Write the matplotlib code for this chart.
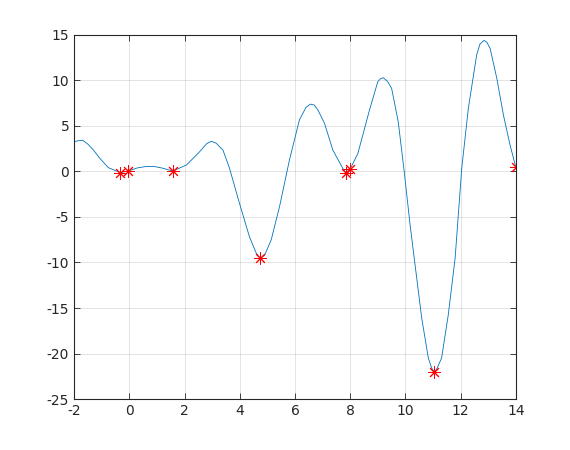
import matplotlib
matplotlib.use("Agg")
import matplotlib.pyplot as plt

# curve samples
x = [-2.0, -1.85, -1.69, -1.50, -1.30, -1.07, -0.76, -0.32, -0.04, 0.30, 0.57, 0.87,
     1.23, 1.57, 2.07, 2.55, 2.80, 2.97, 3.15, 3.39, 3.63, 3.99, 4.35, 4.60, 4.75,
     4.90, 5.14, 5.44, 5.80, 6.16, 6.40, 6.56, 6.70, 6.83, 7.07, 7.37, 7.73, 7.84,
     8.0, 8.28, 8.70, 9.0, 9.10, 9.20, 9.35, 9.50, 9.74, 9.95, 10.17, 10.38, 10.59,
     10.83, 10.95, 11.05, 11.15, 11.31, 11.55, 11.80, 12.04, 12.28, 12.58, 12.70,
     12.85, 12.95, 13.07, 13.31, 13.55, 13.79, 14.0]
y = [3.27, 3.38, 3.43, 3.00, 2.36, 1.45, 0.42, -0.13, 0.05, 0.40, 0.53, 0.57,
     0.35, 0.05, 0.71, 2.18, 3.05, 3.32, 3.10, 2.36, 0.35, -3.5, -7.16, -9.0, -9.55,
     -9.2, -7.5, -3.87, 1.26, 5.66, 7.05, 7.40, 7.30, 6.76, 5.29, 2.36, 0.35, -0.1,
     0.27, 2.0, 6.76, 9.87, 10.2, 10.30, 9.90, 9.14, 5.47, 0.16, -5.88, -11.0, -16.1,
     -20.5, -21.6, -22.05, -21.6, -20.5, -15.8, -9.54, 0.35, 6.95, 12.8, 14.0,
     14.40, 14.2, 13.5, 10.24, 6.2, 2.91, 0.45]

# marked points
mx = [-0.32, -0.04, 1.57, 4.75, 7.84, 8.0, 11.05, 14.0]
my = [-0.13, 0.05, 0.05, -9.55, -0.2, 0.27, -22.05, 0.45]

plt.rcParams.update({"font.family": "DejaVu Sans", "font.size": 10,
                     "axes.unicode_minus": False})

fig = plt.figure(figsize=(5.7, 4.5), dpi=100)
ax = fig.add_axes([0.13, 0.1133, 0.775, 0.809])
ax.plot(x, y, color="#0072BD", lw=0.6)
ax.plot(mx, my, ls="none", marker=(8, 2, 0), color="red", ms=9, mew=0.7)

ax.set_xlim(-2, 14)
ax.set_ylim(-25, 15)
ax.set_xticks(range(-2, 15, 2))
ax.set_yticks(range(-25, 16, 5))
ax.grid(True, color="#262626", alpha=0.15, lw=0.6)
ax.set_axisbelow(True)
ax.tick_params(direction="in", top=True, right=True, colors="#262626",
               length=4, width=0.6, labelsize=10)
for s in ax.spines.values():
    s.set_color("#262626")
    s.set_linewidth(0.8)

fig.savefig("out.png")
